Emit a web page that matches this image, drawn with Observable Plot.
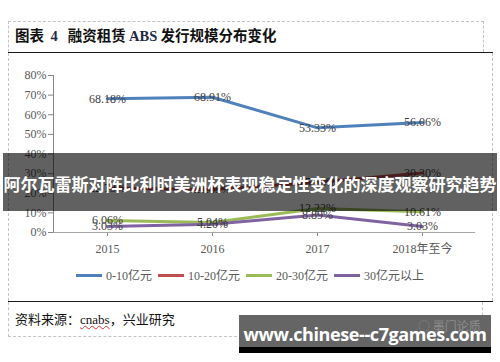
<!DOCTYPE html>
<html><head><meta charset="utf-8">
<script src="https://cdn.jsdelivr.net/npm/d3@7"></script>
<script src="https://cdn.jsdelivr.net/npm/@observablehq/plot@0.6"></script>
<style>
html,body{margin:0;padding:0;background:#fff;}
#page{position:relative;width:500px;height:362px;overflow:hidden;background:#fff;}
.abs{position:absolute;box-sizing:border-box;}
#titlebox{left:8px;top:21px;width:476px;height:31px;border:1px dashed #c4c4c4;border-bottom:none;}
#title{left:15px;top:25px;font-family:"Noto Sans CJK SC",sans-serif;font-weight:bold;font-size:14.5px;color:#111;white-space:nowrap;line-height:20px;}
#title .n{font-family:"Liberation Serif",serif;color:#1f2a44;}
.solid{height:0;border-top:1.5px solid #1a1a1a;}
#chartbox{left:8px;top:53px;width:485px;height:248px;border-left:1px dashed #c4c4c4;border-right:1px dashed #c4c4c4;}
#chart{left:0;top:52px;width:500px;}
#legend{left:0;top:267px;width:500px;height:16px;display:flex;justify-content:center;align-items:center;font-family:"Liberation Serif","Noto Sans CJK SC",serif;font-size:12px;color:#595959;}
#legend .item{display:flex;align-items:center;margin:0 3px;}
#legend .sw{width:26px;height:3px;margin-right:4px;}
#srcbox{left:8px;top:302px;width:475px;height:35px;border:1px dashed #c4c4c4;border-top:none;}
#src{left:15px;top:310px;font-family:"Noto Sans CJK SC",sans-serif;font-size:13px;color:#111;line-height:18px;white-space:nowrap;}
#src .en{font-family:"Liberation Serif",serif;text-decoration:underline wavy #d33;text-decoration-thickness:1px;}
#banner{left:3px;top:153px;width:494px;height:58px;background:rgba(0,0,0,0.62);color:#fff;font-family:"Noto Sans CJK SC",sans-serif;font-weight:bold;font-size:17px;text-align:center;line-height:62px;white-space:nowrap;}
#wm{left:239px;top:315px;width:252px;height:38px;background:#656565;border-bottom:6px solid #000;}
#wmlogo{left:418px;top:317px;font-family:"Noto Sans CJK SC",sans-serif;font-size:12px;color:#8c8c8c;white-space:nowrap;}
#wmtext{left:239px;top:322px;width:252px;text-align:center;font-family:"Open Sans",sans-serif;font-weight:bold;font-size:18px;color:#fff;line-height:24px;white-space:nowrap;letter-spacing:-0.4px;}
</style></head>
<body>
<div id="page">
  <div id="titlebox" class="abs"></div>
  <div id="title" class="abs">图表&nbsp;&nbsp;<span class="n">4</span>&nbsp;&nbsp;&nbsp;融资租赁 <span class="n">ABS</span> 发行规模分布变化</div>
  <div class="abs solid" style="left:8px;top:52px;width:485px;"></div>
  <div id="chartbox" class="abs"></div>
  <div id="chart" class="abs"></div>
  <div id="legend" class="abs"></div>
  <div class="abs solid" style="left:8px;top:301px;width:485px;"></div>
  <div id="srcbox" class="abs"></div>
  <div id="src" class="abs">资料来源：<span class="en">cnabs</span>，兴业研究</div>
  <div id="banner" class="abs">阿尔瓦雷斯对阵比利时美洲杯表现稳定性变化的深度观察研究趋势</div>
  <div id="wm" class="abs"></div>
  <div id="wmlogo" class="abs">◌ 墨门论质</div>
  <div id="wmtext" class="abs">www.chinese--c7games.com</div>
</div>
<script>
const years = ["2015", "2016", "2017", "2018年至今"];
const seriesNames = ["0-10亿元", "10-20亿元", "20-30亿元", "30亿元以上"];
const s0to10 = [68.18, 68.91, 53.33, 56.06];
const s10to20 = [22.73, 21.85, 25.56, 30.30];
const s20to30 = [6.06, 5.04, 12.22, 10.61];
const s30plus = [3.03, 4.20, 8.89, 3.03];
const seriesColors = ["#4F81BD", "#C0504D", "#9BBB59", "#8064A2"];
const yTicks = [0, 10, 20, 30, 40, 50, 60, 70, 80];

const allSeries = [s0to10, s10to20, s20to30, s30plus];
const data = [];
allSeries.forEach((vals, i) => vals.forEach((v, j) => data.push({series: seriesNames[i], year: years[j], value: v})));

const serif = "'Liberation Serif', 'Noto Sans CJK SC', serif";
const chart = Plot.plot({
  width: 500, height: 210,
  marginLeft: 53, marginRight: 25, marginTop: 23, marginBottom: 30,
  style: {fontFamily: serif, fontSize: "12px", background: "transparent", color: "#595959"},
  x: {type: "point", domain: years, padding: 0.5, axis: null},
  y: {domain: [0, 80], axis: null},
  color: {domain: seriesNames, range: seriesColors},
  marks: [
    Plot.axisY({ticks: yTicks, tickSize: 5, tickPadding: 2, tickFormat: d => d + "%", stroke: "#868686", fill: "#595959", label: null, fontSize: 12}),
    Plot.frame({anchor: "left", stroke: "#868686"}),
    Plot.axisX({tickSize: 4, tickPadding: 8, stroke: "#868686", fill: "#595959", label: null, fontSize: 12}),
    Plot.ruleY([0], {stroke: "#a6a6a6"}),
    Plot.line(data, {x: "year", y: "value", z: "series", stroke: "series", strokeWidth: 3, strokeLinejoin: "round", strokeLinecap: "round"}),
    Plot.text(data, {x: "year", y: "value", text: d => d.value.toFixed(2) + "%", fill: "#404040", fontSize: 12, fontFamily: serif})
  ]
});
document.getElementById("chart").appendChild(chart);

const legend = d3.select("#legend");
seriesNames.forEach((name, i) => {
  const it = legend.append("div").attr("class", "item");
  it.append("div").attr("class", "sw").style("background", seriesColors[i]);
  it.append("span").text(name);
});
</script>
</body></html>
